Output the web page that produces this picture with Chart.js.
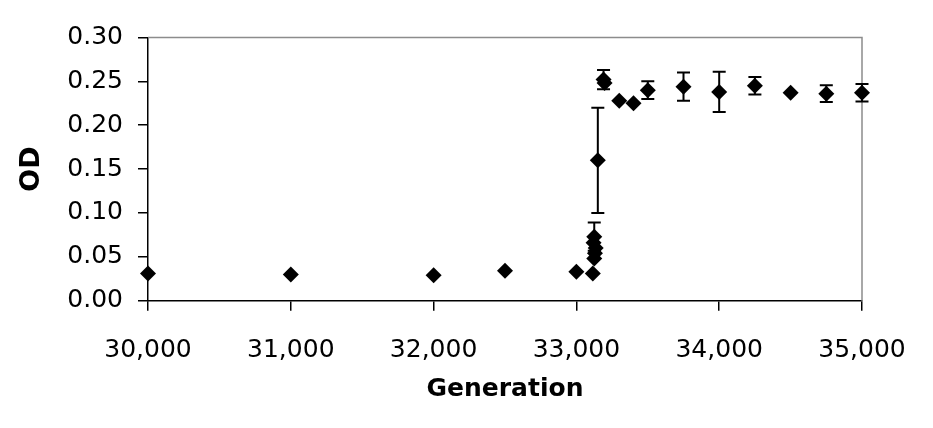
<!DOCTYPE html>
<html>
<head>
<meta charset="utf-8">
<script src="https://cdn.jsdelivr.net/npm/chart.js@4.4.0/dist/chart.umd.min.js"></script>
<style>
    html, body { margin: 0; padding: 0; background: #fff; }
    #wrap { width: 933px; height: 428px; }
</style>
</head>
<body>
<div id="wrap"><canvas id="odChart" width="933" height="428"></canvas></div>
<script>
// Dados
const generations = [30000, 31000, 32000, 32500, 33000, 33115, 33125, 33130, 33135, 33120, 33125, 33150, 33190, 33197, 33300, 33400, 33500, 33750, 34000, 34250, 34500, 34750, 35000];
const odValues   = [0.031, 0.030, 0.029, 0.034, 0.033, 0.031, 0.048, 0.054, 0.060, 0.066, 0.073, 0.160, 0.252, 0.248, 0.228, 0.225, 0.240, 0.244, 0.238, 0.245, 0.237, 0.236, 0.237];
const odErrors   = [0, 0, 0, 0, 0, 0, 0, 0, 0, 0, 0.016, 0.060, 0.011, 0, 0, 0, 0.010, 0.016, 0.023, 0.010, 0, 0.0095, 0.010];
const xTicks = [30000, 31000, 32000, 33000, 34000, 35000];
const yTicks = [0, 0.05, 0.10, 0.15, 0.20, 0.25, 0.30];

document.addEventListener('DOMContentLoaded', function() {
    // Moldura cinza (topo e direita)
    const framePlugin = {
        id: 'frame',
        beforeDatasetsDraw(chart) {
            const a = chart.chartArea;
            const c = chart.ctx;
            c.save();
            c.strokeStyle = '#8c8c8c';
            c.lineWidth = 1.5;
            c.beginPath();
            c.moveTo(a.left, a.top);
            c.lineTo(a.right, a.top);
            c.lineTo(a.right, a.bottom);
            c.stroke();
            c.restore();
        }
    };

    // Barras de erro
    const errorBarPlugin = {
        id: 'errorBars',
        afterDatasetsDraw(chart) {
            const xs = chart.scales.x;
            const ys = chart.scales.y;
            const c = chart.ctx;
            c.save();
            c.strokeStyle = '#000';
            c.lineWidth = 2;
            generations.forEach(function(g, i) {
                const e = odErrors[i];
                if (!e) return;
                const px = xs.getPixelForValue(g);
                const top = ys.getPixelForValue(odValues[i] + e);
                const bot = ys.getPixelForValue(odValues[i] - e);
                c.beginPath();
                c.moveTo(px, top); c.lineTo(px, bot);
                c.moveTo(px - 6.5, top); c.lineTo(px + 6.5, top);
                c.moveTo(px - 6.5, bot); c.lineTo(px + 6.5, bot);
                c.stroke();
            });
            c.restore();
        }
    };

    const ctx = document.getElementById('odChart').getContext('2d');
    new Chart(ctx, {
        type: 'scatter',
        data: {
            datasets: [{
                data: generations.map(function(g, i) { return { x: g, y: odValues[i] }; }),
                pointStyle: 'rectRot',
                pointRadius: 8,
                backgroundColor: '#000',
                borderColor: '#000',
                borderWidth: 0,
                clip: false
            }]
        },
        options: {
            responsive: false,
            animation: false,
            devicePixelRatio: 1,
            layout: { padding: { top: 37.5, right: 71, left: 0, bottom: 0 } },
            plugins: {
                legend: { display: false },
                tooltip: { enabled: false }
            },
            scales: {
                x: {
                    type: 'linear',
                    min: 30000,
                    max: 35000,
                    afterFit: function(s) { s.height = 127.3; },
                    afterBuildTicks: function(s) { s.ticks = xTicks.map(function(v) { return { value: v }; }); },
                    border: { color: '#000', width: 1.5 },
                    grid: { drawOnChartArea: false, color: '#000', lineWidth: 1.5, tickLength: 10 },
                    ticks: {
                        color: '#000',
                        padding: 25,
                        maxRotation: 0,
                        font: { family: 'DejaVu Sans', size: 25 },
                        callback: function(v) { return v.toLocaleString('en-US'); }
                    },
                    title: {
                        display: true,
                        text: 'Generation',
                        color: '#000',
                        padding: { top: 0, bottom: 24 },
                        font: { family: 'DejaVu Sans', size: 25, weight: 'bold' }
                    }
                },
                y: {
                    min: 0,
                    max: 0.3,
                    afterFit: function(s) { s.width = 148; },
                    afterBuildTicks: function(s) { s.ticks = yTicks.map(function(v) { return { value: v }; }); },
                    border: { color: '#000', width: 1.5 },
                    grid: { drawOnChartArea: false, color: '#000', lineWidth: 1.5, tickLength: 10 },
                    ticks: {
                        color: '#000',
                        padding: 15,
                        font: { family: 'DejaVu Sans', size: 25 },
                        callback: function(v) { return v.toFixed(2); }
                    },
                    title: {
                        display: true,
                        text: 'OD',
                        color: '#000',
                        padding: { top: 16, bottom: 0 },
                        font: { family: 'DejaVu Sans', size: 27, weight: 'bold' }
                    }
                }
            }
        },
        plugins: [framePlugin, errorBarPlugin]
    });
});
</script>
</body>
</html>
